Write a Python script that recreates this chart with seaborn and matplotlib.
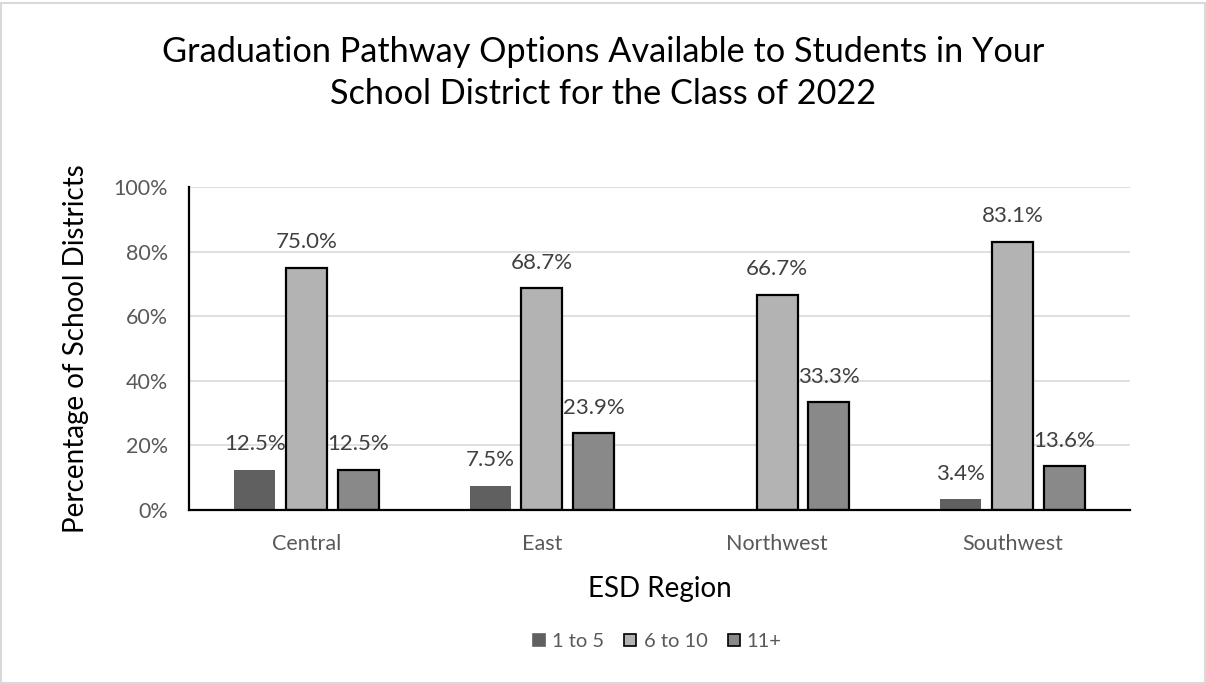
import numpy as np
import pandas as pd
import matplotlib
matplotlib.use("Agg")
import matplotlib.pyplot as plt
import seaborn as sns
from matplotlib.patches import Patch, Rectangle

regions = ["Central", "East", "Northwest", "Southwest"]
groups = ["1 to 5", "6 to 10", "11+"]
pct_1_to_5 = [12.5, 7.5, np.nan, 3.4]
pct_6_to_10 = [75.0, 68.7, 66.7, 83.1]
pct_11_plus = [12.5, 23.9, 33.3, 13.6]
yticks = [0, 20, 40, 60, 80, 100]

colors = {"1 to 5": "#606060", "6 to 10": "#B3B3B3", "11+": "#898989"}
edges = {"1 to 5": "none", "6 to 10": "black", "11+": "black"}

df = pd.DataFrame({
    "region": regions * 3,
    "group": [g for g in groups for _ in regions],
    "pct": pct_1_to_5 + pct_6_to_10 + pct_11_plus,
})

sns.set_theme(style="white")
plt.rcParams["font.family"] = ["Lato", "DejaVu Sans"]

fig = plt.figure(figsize=(12.06, 6.84), dpi=100)
ax = fig.add_axes([0.1567, 0.2544, 0.7803, 0.4722])

sns.barplot(data=df, x="region", y="pct", hue="group", order=regions,
            hue_order=groups, palette=colors, width=0.66, gap=0.21,
            ax=ax, legend=False, saturation=1)

for cont, g in zip(ax.containers, groups):
    for bar in cont.patches:
        bar.set_edgecolor(edges[g])
        bar.set_linewidth(1.6 if edges[g] != "none" else 0)
    labels = ["" if np.isnan(v) else f"{v:.1f}%" for v in cont.datavalues]
    ax.bar_label(cont, labels=labels, padding=11, fontsize=16, color="#404040")

ax.set_ylim(0, 100)
ax.set_yticks(yticks)
ax.set_yticklabels([f"{t}%" for t in yticks])
ax.yaxis.grid(True, color="#D9D9D9", linewidth=1.2)
ax.set_axisbelow(True)
ax.tick_params(axis="both", length=0, labelsize=15.5, labelcolor="#595959")
ax.tick_params(axis="y", pad=15)
ax.tick_params(axis="x", pad=17)
for s in ["top", "right"]:
    ax.spines[s].set_visible(False)
for s in ["left", "bottom"]:
    ax.spines[s].set_color("black")
    ax.spines[s].set_linewidth(1.6)

ax.set_xlabel("ESD Region", fontsize=20, color="black", labelpad=16)
ax.set_ylabel("Percentage of School Districts", fontsize=20, color="black", labelpad=18)

fig.text(0.5, 0.8935, "Graduation Pathway Options Available to Students in Your\nSchool District for the Class of 2022",
         ha="center", va="center", fontsize=24.7, color="black", linespacing=1.36)

handles = [Patch(facecolor=colors[g], edgecolor=edges[g] if edges[g] != "none" else colors[g],
                 linewidth=1.2, label=g) for g in groups]
fig.legend(handles=handles, loc="center", bbox_to_anchor=(0.545, 0.062), ncol=3, frameon=False,
           fontsize=14.5, labelcolor="#595959", handlelength=0.6, handleheight=0.6,
           handletextpad=0.35, columnspacing=1.0)

fig.patches.append(Rectangle((0.001, 0.001), 0.998, 0.995, transform=fig.transFigure,
                             fill=False, edgecolor="#D9D9D9", linewidth=1.5))

fig.savefig("out.png", dpi=100, facecolor="white")
